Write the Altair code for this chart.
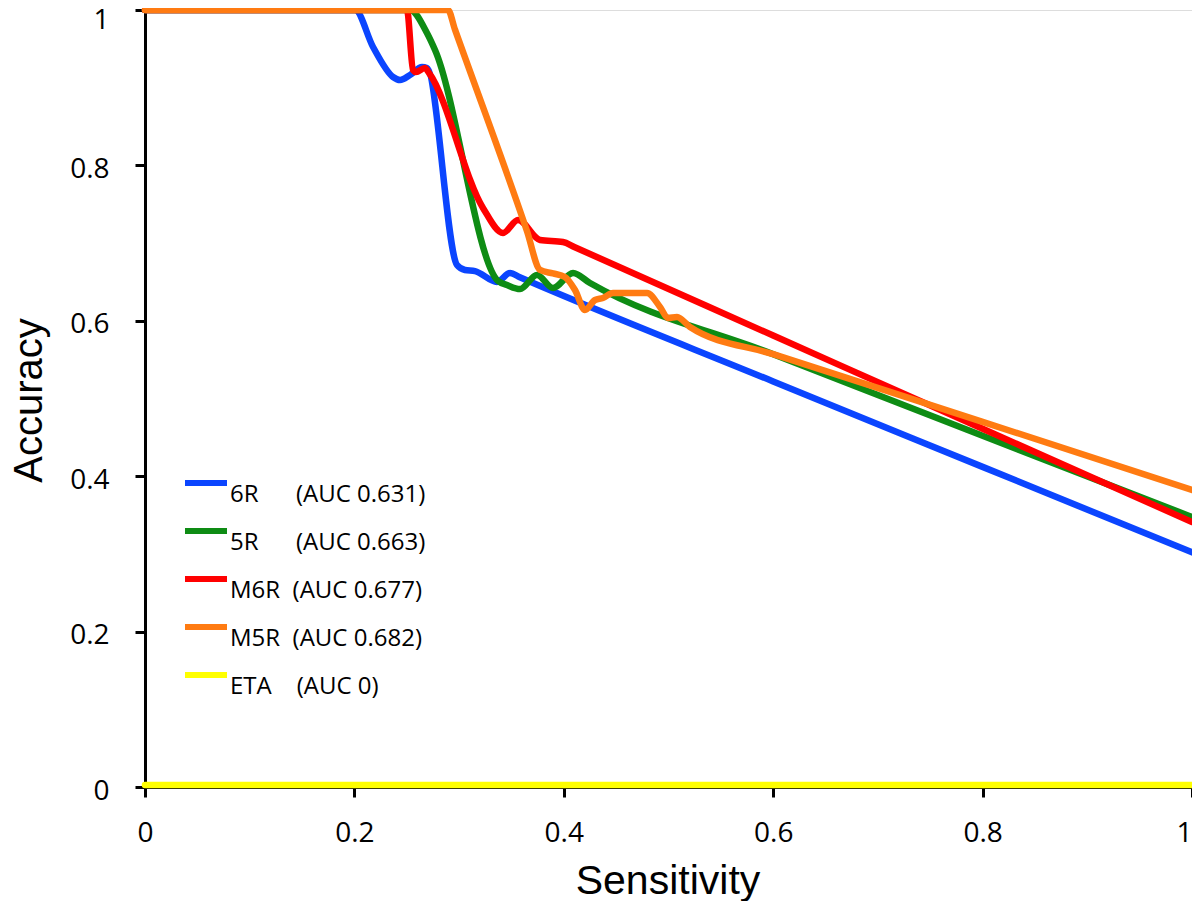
import altair as alt
import pandas as pd

# ---- data ----
series_names = ["6R", "5R", "M6R", "M5R", "ETA"]
legend_labels = [
    "6R\u00a0\u00a0\u00a0\u00a0\u00a0\u00a0(AUC 0.631)",
    "5R\u00a0\u00a0\u00a0\u00a0\u00a0\u00a0(AUC 0.663)",
    "M6R\u00a0\u00a0(AUC 0.677)",
    "M5R\u00a0\u00a0(AUC 0.682)",
    "ETA\u00a0\u00a0\u00a0\u00a0(AUC 0)",
]
colors = ["#0b45ff", "#0e8c14", "#ff0000", "#ff7b12", "#ffff00"]

x_6r = [0.0, 0.2006, 0.2178, 0.2369, 0.2436, 0.2531, 0.2646, 0.2693, 0.298, 0.3056, 0.3152, 0.3362, 0.3486, 0.358, 0.6, 0.8, 1.0]
y_6r = [1.0, 1.0, 0.9524, 0.9138, 0.9099, 0.9163, 0.9266, 0.9254, 0.6718, 0.6654, 0.664, 0.65, 0.6615, 0.656, 0.522, 0.412, 0.302]

x_5r = [0.0, 0.2531, 0.2693, 0.277, 0.3372, 0.3457, 0.3582, 0.3744, 0.3897, 0.4088, 0.425, 0.6, 0.8, 1.0]
y_5r = [1.0, 1.0, 0.9704, 0.9485, 0.6512, 0.6461, 0.6409, 0.659, 0.6422, 0.6615, 0.6486, 0.557, 0.452, 0.3475]

x_m6r = [0.0, 0.2502, 0.256, 0.2588, 0.2674, 0.2713, 0.3228, 0.3419, 0.3563, 0.3773, 0.3992, 0.41, 0.6, 0.8, 1.0]
y_m6r = [1.0, 1.0, 0.9228, 0.9202, 0.9254, 0.9189, 0.7452, 0.713, 0.7297, 0.704, 0.7014, 0.695, 0.581, 0.461, 0.3411]

x_m5r = [0.0, 0.2894, 0.296, 0.3648, 0.3773, 0.3897, 0.401, 0.4107, 0.4202, 0.4298, 0.4374, 0.447, 0.4795, 0.4919, 0.4995, 0.5081, 0.5205, 0.6, 0.8, 1.0]
y_m5r = [1.0, 1.0, 0.975, 0.7156, 0.6654, 0.661, 0.6564, 0.6396, 0.6139, 0.6268, 0.6293, 0.6358, 0.6358, 0.6178, 0.6036, 0.6049, 0.592, 0.557, 0.470, 0.3822]

x_eta = [0.0, 1.0]
y_eta = [0.0, 0.0]

tick_values = [0, 0.2, 0.4, 0.6, 0.8, 1]

xs = [x_6r, x_5r, x_m6r, x_m5r, x_eta]
ys = [y_6r, y_5r, y_m6r, y_m5r, y_eta]

frames = []
for name, lab, xv, yv in zip(series_names, legend_labels, xs, ys):
    frames.append(pd.DataFrame({"series": name, "label": lab, "sens": xv, "acc": yv}))

color_scale = alt.Scale(domain=legend_labels, range=colors)
legend = alt.Legend(
    title=None, orient="none", legendX=37, legendY=449, padding=0,
    symbolType="stroke", symbolSize=1764, symbolStrokeWidth=6, symbolOpacity=1,
    labelFont="Open Sans", labelFontSize=24, labelColor="black", labelLimit=600,
    labelOffset=0, labelBaseline="top", rowPadding=0,
)

x_axis = alt.Axis(
    values=tick_values, format="~g", grid=False, labelFlush=False,
    labelAlign={"condition": {"test": "datum.value == 1", "value": "right"}, "value": "center"},
    domainColor="black", domainWidth=3, tickColor="black", tickWidth=3, tickSize=10,
    labelFont="Open Sans", labelFontSize=28, labelColor="black", labelPadding=22,
    title="Sensitivity", titleFont="Liberation Sans", titleFontSize=41, titleFontWeight="normal",
    titleColor="black", titleX=522.5, titleY=106, titleBaseline="alphabetic", titleAlign="center",
)
y_axis = alt.Axis(
    values=tick_values, format="~g", grid=False,
    labelOffset={"condition": {"test": "datum.value == 1", "value": 10}, "value": 4},
    domainColor="black", domainWidth=3, tickColor="black", tickWidth=3, tickSize=10,
    labelFont="Open Sans", labelFontSize=28, labelColor="black", labelPadding=26,
    title="Accuracy", titleFont="Liberation Sans", titleFontSize=40, titleFontWeight="normal",
    titleColor="black", titleX=-104, titleY=390, titleAngle=270, titleBaseline="alphabetic",
    titleAlign="center",
)

layers = []
for i, df in enumerate(frames):
    mark = alt.Chart(df).mark_line(
        strokeWidth=6.5, interpolate="monotone", strokeCap="round",
        yOffset=-2 if series_names[i] == "ETA" else 0,
    ).encode(
        x=alt.X("sens:Q", scale=alt.Scale(domain=[0, 1], nice=False), axis=x_axis),
        y=alt.Y("acc:Q", scale=alt.Scale(domain=[0, 1], nice=False), axis=y_axis),
        color=alt.Color("label:N", scale=color_scale, legend=legend),
    )
    layers.append(mark)

chart = alt.layer(*layers).properties(
    width=1047, height=777,
    autosize=alt.AutoSizeParams(type="none"),
    padding={"left": 137, "top": 2, "right": 0, "bottom": 114},
).configure_view(stroke=None).configure(background="white")

chart.save("out.html", embed_options={"renderer": "svg", "actions": False})
